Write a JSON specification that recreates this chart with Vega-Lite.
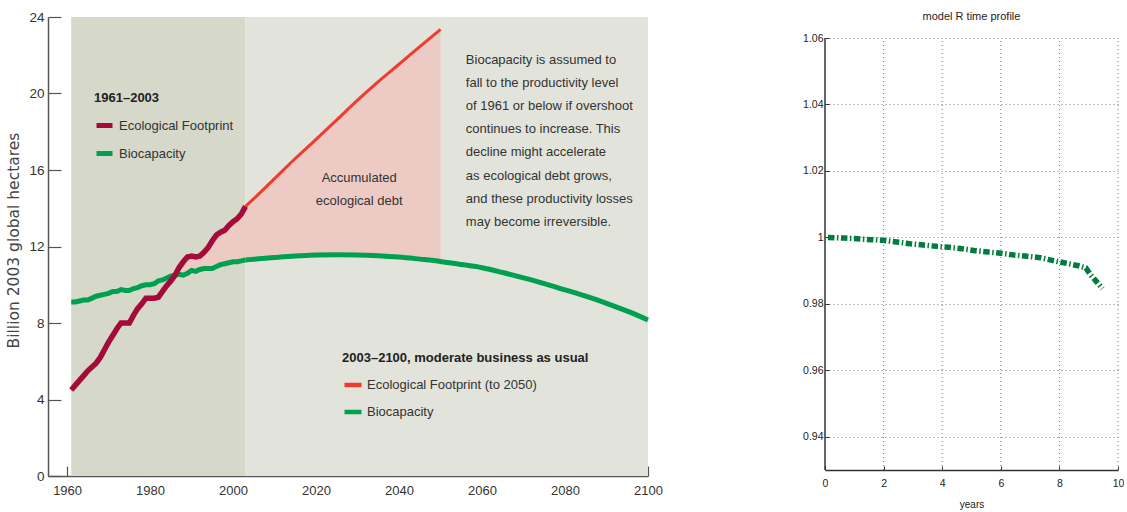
{
  "$schema": "https://vega.github.io/schema/vega-lite/v6.json",
  "background": "white",
  "padding": {"left": 5, "top": 10, "right": 0, "bottom": 0},
  "spacing": 139,
  "config": {
    "view": {"stroke": null},
    "font": "Liberation Sans",
    "text": {"font": "Liberation Sans"}
  },
  "datasets": {
    "periods": [
      {"phase": "1961–2003", "start": 1961, "end": 2003},
      {"phase": "2003–2100", "start": 2003, "end": 2100}
    ],
    "history_fp": [
      {"year": 1961, "value": 4.5}, {"year": 1962, "value": 4.75}, {"year": 1963, "value": 5.0},
      {"year": 1964, "value": 5.25}, {"year": 1965, "value": 5.5}, {"year": 1966, "value": 5.7},
      {"year": 1967, "value": 5.9}, {"year": 1968, "value": 6.2}, {"year": 1969, "value": 6.6},
      {"year": 1970, "value": 7.0}, {"year": 1971, "value": 7.35}, {"year": 1972, "value": 7.7},
      {"year": 1973, "value": 8.0}, {"year": 1974, "value": 8.0}, {"year": 1975, "value": 8.0},
      {"year": 1976, "value": 8.4}, {"year": 1977, "value": 8.75}, {"year": 1978, "value": 9.0},
      {"year": 1979, "value": 9.3}, {"year": 1980, "value": 9.3}, {"year": 1981, "value": 9.3},
      {"year": 1982, "value": 9.35}, {"year": 1983, "value": 9.65}, {"year": 1984, "value": 9.95},
      {"year": 1985, "value": 10.2}, {"year": 1986, "value": 10.5}, {"year": 1987, "value": 10.9},
      {"year": 1988, "value": 11.2}, {"year": 1989, "value": 11.45}, {"year": 1990, "value": 11.5},
      {"year": 1991, "value": 11.45}, {"year": 1992, "value": 11.5}, {"year": 1993, "value": 11.7},
      {"year": 1994, "value": 11.95}, {"year": 1995, "value": 12.3}, {"year": 1996, "value": 12.6},
      {"year": 1997, "value": 12.75}, {"year": 1998, "value": 12.85}, {"year": 1999, "value": 13.1},
      {"year": 2000, "value": 13.3}, {"year": 2001, "value": 13.45}, {"year": 2002, "value": 13.7},
      {"year": 2003, "value": 14.1}
    ],
    "history_bio": [
      {"year": 1961, "value": 9.1}, {"year": 1962, "value": 9.1}, {"year": 1963, "value": 9.15},
      {"year": 1964, "value": 9.2}, {"year": 1965, "value": 9.2}, {"year": 1966, "value": 9.3},
      {"year": 1967, "value": 9.4}, {"year": 1968, "value": 9.45}, {"year": 1969, "value": 9.5},
      {"year": 1970, "value": 9.55}, {"year": 1971, "value": 9.65}, {"year": 1972, "value": 9.65},
      {"year": 1973, "value": 9.75}, {"year": 1974, "value": 9.7}, {"year": 1975, "value": 9.7},
      {"year": 1976, "value": 9.8}, {"year": 1977, "value": 9.85}, {"year": 1978, "value": 9.95},
      {"year": 1979, "value": 10.0}, {"year": 1980, "value": 10.0}, {"year": 1981, "value": 10.05},
      {"year": 1982, "value": 10.2}, {"year": 1983, "value": 10.25}, {"year": 1984, "value": 10.35},
      {"year": 1985, "value": 10.45}, {"year": 1986, "value": 10.5}, {"year": 1987, "value": 10.55},
      {"year": 1988, "value": 10.5}, {"year": 1989, "value": 10.6}, {"year": 1990, "value": 10.75},
      {"year": 1991, "value": 10.7}, {"year": 1992, "value": 10.8}, {"year": 1993, "value": 10.85},
      {"year": 1994, "value": 10.85}, {"year": 1995, "value": 10.85}, {"year": 1996, "value": 10.95},
      {"year": 1997, "value": 11.05}, {"year": 1998, "value": 11.1}, {"year": 1999, "value": 11.15},
      {"year": 2000, "value": 11.2}, {"year": 2001, "value": 11.2}, {"year": 2002, "value": 11.25},
      {"year": 2003, "value": 11.3}
    ],
    "projection_fp": [
      {"year": 2003, "value": 14.1}, {"year": 2005, "value": 14.5}, {"year": 2010, "value": 15.55},
      {"year": 2015, "value": 16.6}, {"year": 2020, "value": 17.6}, {"year": 2025, "value": 18.62},
      {"year": 2030, "value": 19.65}, {"year": 2035, "value": 20.62}, {"year": 2040, "value": 21.53},
      {"year": 2045, "value": 22.45}, {"year": 2050, "value": 23.35}
    ],
    "projection_bio": [
      {"year": 2003, "value": 11.3}, {"year": 2005, "value": 11.33}, {"year": 2010, "value": 11.42},
      {"year": 2015, "value": 11.5}, {"year": 2020, "value": 11.55}, {"year": 2025, "value": 11.57},
      {"year": 2030, "value": 11.56}, {"year": 2035, "value": 11.52}, {"year": 2040, "value": 11.45},
      {"year": 2045, "value": 11.34}, {"year": 2050, "value": 11.22}, {"year": 2055, "value": 11.06},
      {"year": 2060, "value": 10.89}, {"year": 2065, "value": 10.64}, {"year": 2070, "value": 10.36},
      {"year": 2075, "value": 10.06}, {"year": 2080, "value": 9.73}, {"year": 2085, "value": 9.4},
      {"year": 2090, "value": 9.03}, {"year": 2095, "value": 8.62}, {"year": 2100, "value": 8.16}
    ],
    "debt": [
      {"year": 1986, "footprint": 10.5, "biocapacity": 10.5},
      {"year": 1987, "footprint": 10.9, "biocapacity": 10.55},
      {"year": 1988, "footprint": 11.2, "biocapacity": 10.5},
      {"year": 1989, "footprint": 11.45, "biocapacity": 10.6},
      {"year": 1990, "footprint": 11.5, "biocapacity": 10.75},
      {"year": 1991, "footprint": 11.45, "biocapacity": 10.7},
      {"year": 1992, "footprint": 11.5, "biocapacity": 10.8},
      {"year": 1993, "footprint": 11.7, "biocapacity": 10.85},
      {"year": 1994, "footprint": 11.95, "biocapacity": 10.85},
      {"year": 1995, "footprint": 12.3, "biocapacity": 10.85},
      {"year": 1996, "footprint": 12.6, "biocapacity": 10.95},
      {"year": 1997, "footprint": 12.75, "biocapacity": 11.05},
      {"year": 1998, "footprint": 12.85, "biocapacity": 11.1},
      {"year": 1999, "footprint": 13.1, "biocapacity": 11.15},
      {"year": 2000, "footprint": 13.3, "biocapacity": 11.2},
      {"year": 2001, "footprint": 13.45, "biocapacity": 11.2},
      {"year": 2002, "footprint": 13.7, "biocapacity": 11.25},
      {"year": 2003, "footprint": 14.1, "biocapacity": 11.3},
      {"year": 2005, "footprint": 14.5, "biocapacity": 11.33},
      {"year": 2010, "footprint": 15.55, "biocapacity": 11.42},
      {"year": 2015, "footprint": 16.6, "biocapacity": 11.5},
      {"year": 2020, "footprint": 17.6, "biocapacity": 11.55},
      {"year": 2025, "footprint": 18.62, "biocapacity": 11.57},
      {"year": 2030, "footprint": 19.65, "biocapacity": 11.56},
      {"year": 2035, "footprint": 20.62, "biocapacity": 11.52},
      {"year": 2040, "footprint": 21.53, "biocapacity": 11.45},
      {"year": 2045, "footprint": 22.45, "biocapacity": 11.34},
      {"year": 2050, "footprint": 23.35, "biocapacity": 11.22}
    ],
    "debt_note": [
      {"year": 2030.4, "value": 15.35, "note": "Accumulated\necological debt"}
    ],
    "bio_note": [
      {"year": 2056.1, "value": 21.54, "note": "Biocapacity is assumed to\nfall to the productivity level\nof 1961 or below if overshoot\ncontinues to increase. This\ndecline might accelerate\nas ecological debt grows,\nand these productivity losses\nmay become irreversible."}
    ],
    "profile": [
      {"t": 0.1, "r": 1.0}, {"t": 0.66, "r": 0.9998}, {"t": 1.11, "r": 0.9996},
      {"t": 1.57, "r": 0.9993}, {"t": 2.0, "r": 0.9991}, {"t": 2.45, "r": 0.9986},
      {"t": 2.9, "r": 0.9981}, {"t": 3.35, "r": 0.9977}, {"t": 3.8, "r": 0.9973},
      {"t": 4.24, "r": 0.997}, {"t": 4.68, "r": 0.9966}, {"t": 5.13, "r": 0.996},
      {"t": 5.57, "r": 0.9956}, {"t": 6.01, "r": 0.9952}, {"t": 6.45, "r": 0.9947},
      {"t": 6.9, "r": 0.9943}, {"t": 7.35, "r": 0.9939}, {"t": 7.8, "r": 0.993},
      {"t": 8.24, "r": 0.9922}, {"t": 8.68, "r": 0.9914}, {"t": 8.9, "r": 0.9908},
      {"t": 9.07, "r": 0.9887}, {"t": 9.47, "r": 0.9846}
    ],
    "xgrid": [{"t": 2}, {"t": 4}, {"t": 6}, {"t": 8}, {"t": 10}],
    "yline": [{"t": 0}]
  },
  "hconcat": [
    {
      "width": 600,
      "height": 459,
      "layer": [
        {
          "data": {"name": "periods"},
          "mark": {"type": "rect"},
          "encoding": {
            "x": {
              "field": "start", "type": "quantitative", "title": null,
              "scale": {"domain": [1955.4, 2100], "nice": false, "zero": false},
              "axis": {
                "values": [1960, 1970, 1980, 1990, 2000, 2010, 2020, 2030, 2040, 2050, 2060, 2070, 2080, 2090, 2100],
                "format": "d",
                "labelExpr": "datum.value % 20 === 0 ? datum.label : ''",
                "tickSize": -10, "tickColor": "#555", "tickWidth": 1.2,
                "domainColor": "#555", "domainWidth": 1.5,
                "labelPadding": 18, "labelFont": "Liberation Sans", "labelFontSize": 13,
                "labelColor": "#333", "labelFlush": false, "labelOverlap": false, "grid": false
              }
            },
            "x2": {"field": "end"},
            "y": {
              "datum": 24, "type": "quantitative", "title": "Billion 2003 global hectares",
              "scale": {"domain": [0, 24], "nice": false, "zero": true},
              "axis": {
                "values": [0, 4, 8, 12, 16, 20, 24],
                "tickSize": -13, "tickColor": "#555", "tickWidth": 1.2,
                "domainColor": "#555", "domainWidth": 1.5,
                "labelPadding": 17, "labelFont": "Liberation Sans", "labelFontSize": 13.5,
                "labelColor": "#333", "grid": false,
                "titleFont": "DejaVu Sans", "titleFontSize": 15.5, "titleFontWeight": "normal",
                "titleColor": "#444", "titleX": -27, "titleY": 223, "titleAngle": 270,
                "titleBaseline": "bottom", "titleAlign": "center"
              }
            },
            "y2": {"datum": 0},
            "fill": {
              "field": "phase", "type": "nominal", "legend": null,
              "scale": {"domain": ["1961–2003", "2003–2100"], "range": ["#d6d8ca", "#e2e3da"]}
            }
          }
        },
        {
          "data": {"name": "debt"},
          "mark": {"type": "area", "color": "#eecac4", "opacity": 1},
          "encoding": {
            "x": {"field": "year", "type": "quantitative", "title": null},
            "y": {"field": "footprint", "type": "quantitative", "title": "Billion 2003 global hectares"},
            "y2": {"field": "biocapacity"}
          }
        },
        {
          "data": {"name": "projection_bio"},
          "transform": [{"calculate": "'Biocapacity'", "as": "series"}],
          "mark": {"type": "line", "strokeWidth": 5, "interpolate": "monotone", "strokeCap": "butt"},
          "encoding": {
            "x": {"field": "year", "type": "quantitative", "title": null},
            "y": {"field": "value", "type": "quantitative", "title": "Billion 2003 global hectares"},
            "stroke": {
              "field": "series", "type": "nominal",
              "scale": {"domain": ["Ecological Footprint (to 2050)", "Biocapacity"], "range": ["#f03c2e", "#00a050"]},
              "legend": {
                "title": "2003–2100, moderate business as usual",
                "orient": "none", "legendX": 294, "legendY": 335, "direction": "vertical",
                "titleFont": "Liberation Sans", "titleFontSize": 13, "titleFontWeight": "bold",
                "titleColor": "#222", "titlePadding": 9, "titleLimit": 400,
                "labelFont": "Liberation Sans", "labelFontSize": 13, "labelColor": "#333",
                "labelOffset": 3, "labelLimit": 400,
                "symbolType": "stroke", "symbolSize": 289, "symbolStrokeWidth": 4.5,
                "rowPadding": 7, "padding": 0
              }
            }
          }
        },
        {
          "data": {"name": "projection_fp"},
          "transform": [{"calculate": "'Ecological Footprint (to 2050)'", "as": "series"}],
          "mark": {"type": "line", "strokeWidth": 3, "interpolate": "monotone", "strokeCap": "butt"},
          "encoding": {
            "x": {"field": "year", "type": "quantitative", "title": null},
            "y": {"field": "value", "type": "quantitative", "title": "Billion 2003 global hectares"},
            "stroke": {"field": "series", "type": "nominal"}
          }
        },
        {
          "data": {"name": "history_bio"},
          "transform": [{"calculate": "'Biocapacity'", "as": "series"}],
          "mark": {"type": "line", "strokeWidth": 5, "strokeCap": "butt"},
          "encoding": {
            "x": {"field": "year", "type": "quantitative", "title": null},
            "y": {"field": "value", "type": "quantitative", "title": "Billion 2003 global hectares"},
            "color": {
              "field": "series", "type": "nominal",
              "scale": {"domain": ["Ecological Footprint", "Biocapacity"], "range": ["#a40b3b", "#00a050"]},
              "legend": {
                "title": "1961–2003",
                "orient": "none", "legendX": 46, "legendY": 75, "direction": "vertical",
                "titleFont": "Liberation Sans", "titleFontSize": 13, "titleFontWeight": "bold",
                "titleColor": "#222", "titlePadding": 10, "titleLimit": 400,
                "labelFont": "Liberation Sans", "labelFontSize": 13, "labelColor": "#333",
                "labelOffset": 4, "labelLimit": 400,
                "symbolType": "stroke", "symbolSize": 256, "symbolStrokeWidth": 5,
                "rowPadding": 7, "padding": 0
              }
            }
          }
        },
        {
          "data": {"name": "history_fp"},
          "transform": [{"calculate": "'Ecological Footprint'", "as": "series"}],
          "mark": {"type": "line", "strokeWidth": 5.5, "strokeCap": "butt"},
          "encoding": {
            "x": {"field": "year", "type": "quantitative", "title": null},
            "y": {"field": "value", "type": "quantitative", "title": "Billion 2003 global hectares"},
            "color": {"field": "series", "type": "nominal"}
          }
        },
        {
          "data": {"name": "debt_note"},
          "mark": {"type": "text", "align": "center", "baseline": "alphabetic", "lineBreak": "\n", "lineHeight": 23, "fontSize": 13, "font": "Liberation Sans", "color": "#333"},
          "encoding": {
            "x": {"field": "year", "type": "quantitative", "title": null},
            "y": {"field": "value", "type": "quantitative", "title": "Billion 2003 global hectares"},
            "text": {"field": "note"}
          }
        },
        {
          "data": {"name": "bio_note"},
          "mark": {"type": "text", "align": "left", "baseline": "alphabetic", "lineBreak": "\n", "lineHeight": 23.1, "fontSize": 13, "font": "Liberation Sans", "color": "#333"},
          "encoding": {
            "x": {"field": "year", "type": "quantitative", "title": null},
            "y": {"field": "value", "type": "quantitative", "title": "Billion 2003 global hectares"},
            "text": {"field": "note"}
          }
        }
      ]
    },
    {
      "width": 293,
      "height": 453,
      "title": {"text": "model R time profile", "font": "Liberation Sans", "fontSize": 11, "fontWeight": "normal", "color": "#222", "offset": -11, "baseline": "middle"},
      "layer": [
        {
          "data": {"name": "profile"},
          "mark": {"type": "line", "color": "#007d3c", "strokeWidth": 5.5, "strokeDash": [6.5, 2.5, 1.5, 2.5], "strokeCap": "butt"},
          "encoding": {
            "x": {
              "field": "t", "type": "quantitative", "title": "years",
              "scale": {"domain": [0, 10], "nice": false, "zero": true},
              "axis": {
                "values": [0, 2, 4, 6, 8, 10], "grid": false,
                "tickSize": -4, "tickColor": "#333", "domainColor": "#333", "domainWidth": 1.5,
                "labelPadding": 12, "labelFont": "Liberation Sans", "labelFontSize": 10.5, "labelColor": "#222",
                "labelFlush": false,
                "titleFont": "Liberation Sans", "titleFontSize": 10, "titleFontWeight": "normal", "titleColor": "#222", "titlePadding": 11
              }
            },
            "y": {
              "field": "r", "type": "quantitative", "title": null,
              "scale": {"domain": [0.93, 1.06632], "nice": false, "zero": false},
              "axis": {
                "values": [0.94, 0.96, 0.98, 1, 1.02, 1.04, 1.06], "format": "~g",
                "grid": true, "gridDash": [1, 3], "gridColor": "#777", "gridWidth": 1,
                "domain": false,
                "tickSize": -4, "tickColor": "#333",
                "labelPadding": 6, "labelFont": "Liberation Sans", "labelFontSize": 10.5, "labelColor": "#222",
                "labelFlush": false
              }
            }
          }
        },
        {
          "data": {"name": "xgrid"},
          "mark": {"type": "rule", "color": "#777", "strokeWidth": 1, "strokeDash": [1, 3]},
          "encoding": {
            "x": {"field": "t", "type": "quantitative", "title": "years"},
            "y": {"datum": 0.93, "type": "quantitative"},
            "y2": {"datum": 1.06}
          }
        },
        {
          "data": {"name": "yline"},
          "mark": {"type": "rule", "color": "#333", "strokeWidth": 1.5},
          "encoding": {
            "x": {"field": "t", "type": "quantitative", "title": "years"},
            "y": {"datum": 0.93, "type": "quantitative"},
            "y2": {"datum": 1.06}
          }
        }
      ]
    }
  ]
}
